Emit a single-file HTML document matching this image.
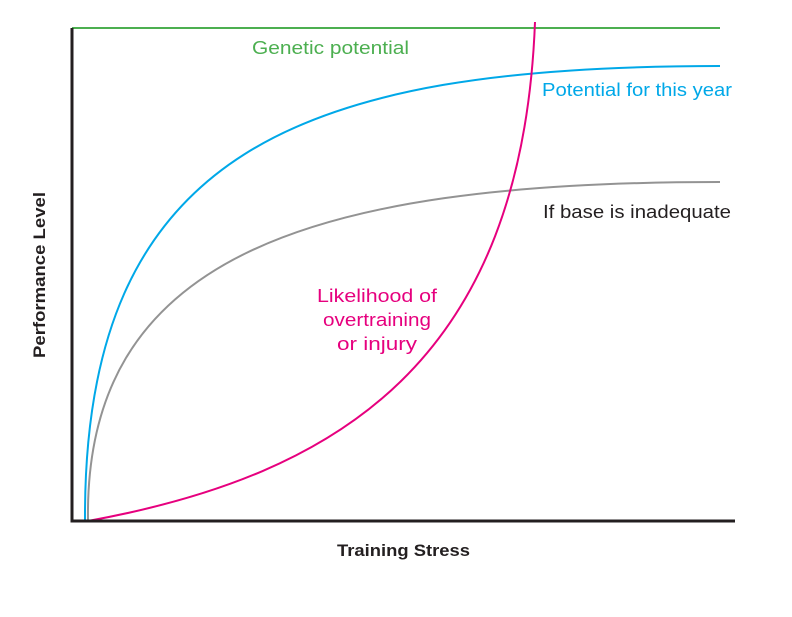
<!DOCTYPE html>
<html><head><style>body{margin:0;background:#fff}</style></head><body>
<svg width="792" height="612" viewBox="0 0 792 612" xmlns="http://www.w3.org/2000/svg" font-family="Liberation Sans, sans-serif">
<rect width="792" height="612" fill="#fff"/>
<line x1="72" y1="28" x2="720" y2="28" stroke="#4caf50" stroke-width="2"/>
<path d="M85,521 C83,150 300,66 720,66" fill="none" stroke="#00a8e8" stroke-width="2"/>
<path d="M88,521 C84,260 300,182 720,182" fill="none" stroke="#939393" stroke-width="2"/>
<path d="M88,521 C340,475 522,360 535,22" fill="none" stroke="#e6007e" stroke-width="2"/>
<polyline points="72,28 72,521 735,521" fill="none" stroke="#231f20" stroke-width="3"/>
<text x="252" y="54" font-size="18" fill="#4caf50" textLength="157" lengthAdjust="spacingAndGlyphs">Genetic potential</text>
<text x="542" y="96" font-size="18" fill="#00a8e8" textLength="190" lengthAdjust="spacingAndGlyphs">Potential for this year</text>
<text x="543" y="218" font-size="18" fill="#231f20" textLength="188" lengthAdjust="spacingAndGlyphs">If base is inadequate</text>
<g font-size="18" fill="#e6007e">
<text x="317" y="302" textLength="120" lengthAdjust="spacingAndGlyphs">Likelihood of</text>
<text x="323" y="326" textLength="108" lengthAdjust="spacingAndGlyphs">overtraining</text>
<text x="337" y="350" textLength="80" lengthAdjust="spacingAndGlyphs">or injury</text>
</g>
<text x="337" y="556" font-size="17" font-weight="bold" fill="#231f20" textLength="133" lengthAdjust="spacingAndGlyphs">Training Stress</text>
<text transform="translate(45,358) rotate(-90)" font-size="17" font-weight="bold" fill="#231f20" textLength="166" lengthAdjust="spacingAndGlyphs">Performance Level</text>
</svg>
</body></html>
